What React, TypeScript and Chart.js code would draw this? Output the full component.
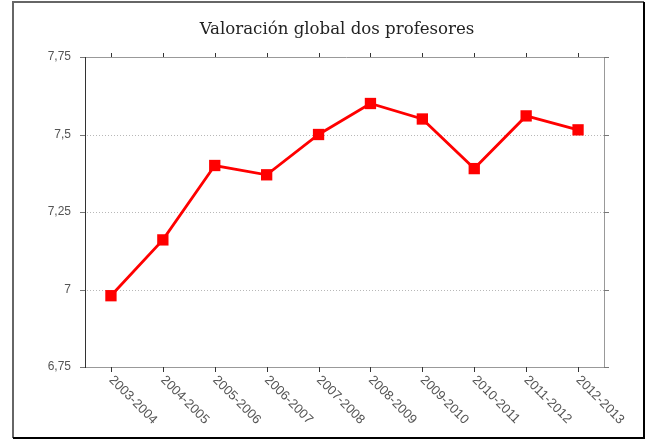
import React, { useEffect, useRef } from "react";
import { Chart, registerables } from "chart.js";

Chart.register(...registerables);

const categories = [
  "2003-2004",
  "2004-2005",
  "2005-2006",
  "2006-2007",
  "2007-2008",
  "2008-2009",
  "2009-2010",
  "2010-2011",
  "2011-2012",
  "2012-2013",
];
const values = [6.98, 7.16, 7.4, 7.37, 7.5, 7.6, 7.55, 7.39, 7.56, 7.515];
const yTicks = [6.75, 7, 7.25, 7.5, 7.75];
const yTickLabels = ["6,75", "7", "7,25", "7,5", "7,75"];
const gridValues = [7, 7.25, 7.5];
const title = "Valoración global dos profesores";

const W = 646;
const H = 439;

const decor = {
  id: "decor",
  beforeDraw(chart: any) {
    const ctx = chart.ctx;
    ctx.save();
    ctx.fillStyle = "#ffffff";
    ctx.fillRect(0, 0, W, H);
    // outer frame
    ctx.lineWidth = 2;
    ctx.strokeStyle = "#666666";
    ctx.beginPath();
    ctx.moveTo(13, 438);
    ctx.lineTo(13, 2);
    ctx.lineTo(644, 2);
    ctx.stroke();
    ctx.strokeStyle = "#000000";
    ctx.beginPath();
    ctx.moveTo(644, 2);
    ctx.lineTo(644, 438);
    ctx.lineTo(13, 438);
    ctx.stroke();
    // title
    ctx.fillStyle = "#222222";
    ctx.font = "16.6px 'DejaVu Serif'";
    ctx.textAlign = "center";
    ctx.textBaseline = "middle";
    ctx.fillText(title, 337, 30);
    ctx.restore();
  },
  beforeDatasetsDraw(chart: any) {
    const ctx = chart.ctx;
    const a = chart.chartArea;
    const xs = chart.scales.x;
    const ys = chart.scales.y;
    ctx.save();
    // dotted grid
    ctx.lineWidth = 1;
    ctx.strokeStyle = "#b8b8b8";
    ctx.setLineDash([1, 2]);
    ctx.beginPath();
    gridValues.forEach((v) => {
      const y = Math.round(ys.getPixelForValue(v)) + 0.5;
      ctx.moveTo(a.left + 2, y);
      ctx.lineTo(a.right, y);
    });
    ctx.stroke();
    ctx.setLineDash([]);
    // top, right and bottom lines (gray)
    ctx.strokeStyle = "#999999";
    ctx.beginPath();
    ctx.moveTo(a.left, a.top + 0.5);
    ctx.lineTo(a.right + 4, a.top + 0.5);
    ctx.moveTo(a.right + 0.5, a.top);
    ctx.lineTo(a.right + 0.5, a.bottom);
    ctx.moveTo(a.left, a.bottom + 0.5);
    ctx.lineTo(a.right + 1, a.bottom + 0.5);
    ctx.stroke();
    // left axis dark
    ctx.strokeStyle = "#333333";
    ctx.beginPath();
    ctx.moveTo(a.left + 0.5, a.top);
    ctx.lineTo(a.left + 0.5, a.bottom + 1);
    ctx.stroke();
    // y ticks
    ctx.strokeStyle = "#777777";
    ctx.beginPath();
    yTicks.forEach((v) => {
      const y = Math.round(ys.getPixelForValue(v)) + 0.5;
      ctx.moveTo(a.left - 5, y);
      ctx.lineTo(a.left, y);
      ctx.moveTo(a.right, y);
      ctx.lineTo(a.right + 5, y);
    });
    ctx.stroke();
    // x ticks top and bottom
    ctx.strokeStyle = "#333333";
    ctx.beginPath();
    categories.forEach((_, i) => {
      const x = Math.round(xs.getPixelForValue(i)) + 0.5;
      ctx.moveTo(x, a.top - 4);
      ctx.lineTo(x, a.top);
      ctx.moveTo(x, a.bottom);
      ctx.lineTo(x, a.bottom + 5);
    });
    ctx.stroke();
    // x labels rotated clockwise
    ctx.fillStyle = "#555555";
    ctx.font = "13px 'Liberation Sans'";
    ctx.textAlign = "left";
    ctx.textBaseline = "middle";
    categories.forEach((c, i) => {
      const x = xs.getPixelForValue(i);
      ctx.save();
      ctx.translate(x, a.bottom + 11);
      ctx.rotate(Math.PI / 4);
      ctx.fillText(c, 0, 0);
      ctx.restore();
    });
    ctx.restore();
  },
};

export default function App() {
  const ref = useRef<HTMLCanvasElement>(null);
  useEffect(() => {
    if (!ref.current) return;
    const chart = new Chart(ref.current, {
      type: "line",
      data: {
        labels: categories,
        datasets: [
          {
            data: values,
            borderColor: "#ff0000",
            backgroundColor: "#ff0000",
            borderWidth: 2.8,
            pointStyle: "rect",
            pointRadius: 8,
            pointHoverRadius: 8,
            pointBorderWidth: 0,
            tension: 0,
          },
        ],
      },
      options: {
        responsive: false,
        animation: false,
        devicePixelRatio: 1,
        layout: { padding: { left: 0, right: 42, top: 57, bottom: 0 } },
        plugins: {
          legend: { display: false },
          title: { display: false },
          tooltip: { enabled: false },
        },
        scales: {
          x: {
            type: "category",
            offset: true,
            grid: { display: false, drawTicks: false },
            border: { display: false },
            ticks: { display: false },
            afterFit: (s: any) => {
              s.height = 72;
            },
          },
          y: {
            type: "linear",
            min: 6.75,
            max: 7.75,
            afterBuildTicks: (s: any) => {
              s.ticks = yTicks.map((v) => ({ value: v }));
            },
            grid: { display: false, drawTicks: false },
            border: { display: false },
            ticks: {
              padding: 14,
              color: "#555555",
              font: { family: "'Liberation Sans'", size: 12 },
              callback: (v: any) => {
                const i = yTicks.indexOf(Number(v));
                return i >= 0 ? yTickLabels[i] : "";
              },
            },
            afterFit: (s: any) => {
              s.width = 85;
            },
          },
        },
      },
      plugins: [decor],
    } as any);
    return () => chart.destroy();
  }, []);
  return (
    <div style={{ position: "fixed", left: 0, top: 0, width: W, height: H }}>
      <canvas ref={ref} width={W} height={H} style={{ width: W, height: H }} />
    </div>
  );
}
